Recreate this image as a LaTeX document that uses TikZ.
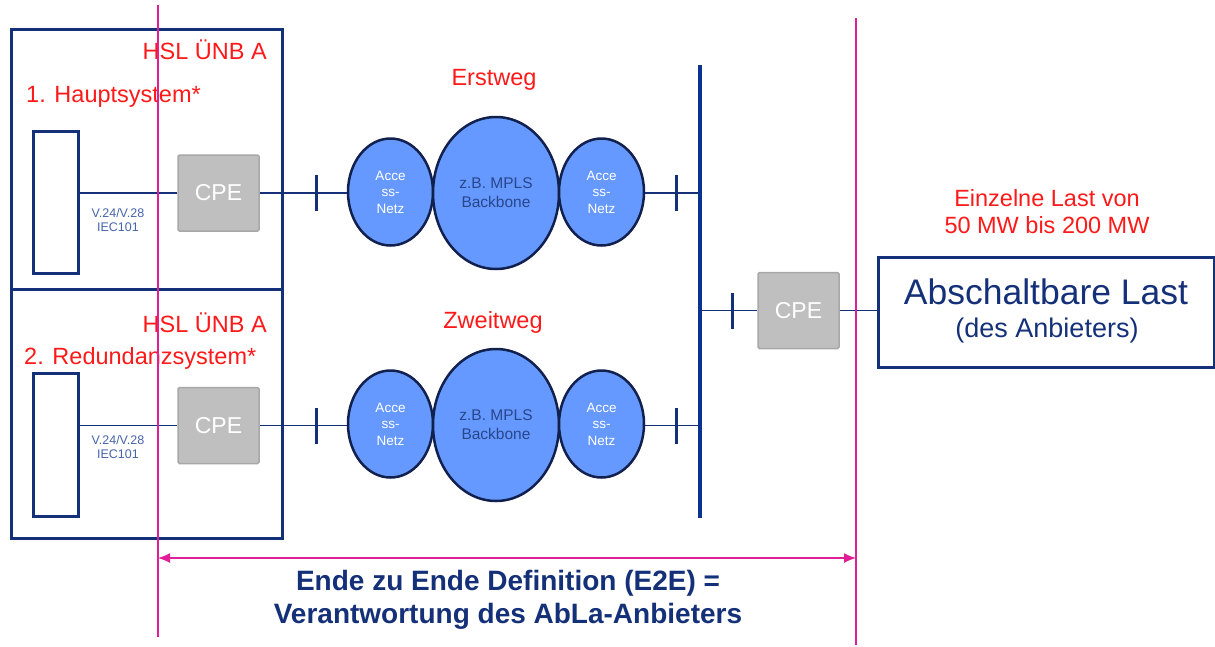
\documentclass[tikz,border=0pt]{standalone}
\usepackage{fontspec}
\setmainfont{Liberation Sans}
\usetikzlibrary{shapes.geometric,arrows.meta}
\definecolor{navy}{RGB}{20,48,120}
\definecolor{busblue}{RGB}{10,50,145}
\definecolor{accfill}{RGB}{102,153,255}
\definecolor{ellline}{RGB}{18,32,78}
\definecolor{alarm}{RGB}{255,25,25}
\definecolor{pinkline}{RGB}{225,30,150}
\definecolor{cpefill}{RGB}{191,191,191}
\definecolor{cpeline}{RGB}{168,168,168}
\definecolor{protocol}{RGB}{70,100,170}
\definecolor{bbtext}{RGB}{40,70,140}
\begin{document}
\begin{tikzpicture}[x=1pt,y=-1pt,
  sysbox/.style={draw=navy, line width=3pt, rectangle, inner sep=0pt, anchor=north west},
  devbox/.style={draw=navy, line width=3pt, rectangle, inner sep=0pt, anchor=north west, minimum width=45pt},
  cpe/.style={draw=cpeline, line width=1.5pt, fill=cpefill, rounded corners=1.5pt, minimum width=81pt, minimum height=76pt, inner sep=0pt, text=white, font=\fontsize{23}{27}\selectfont},
  redlbl/.style={text=alarm, inner sep=0pt, font=\fontsize{23.5}{27}\selectfont},
  proto/.style={text=protocol, inner sep=0pt, align=center, font=\fontsize{12.5}{14}\selectfont},
  access/.style={ellipse, draw=ellline, line width=2.5pt, fill=accfill, minimum width=85pt, minimum height=107pt, inner sep=0pt, text=white, align=center, font=\fontsize{13.5}{16.5}\selectfont},
  backbone/.style={ellipse, draw=ellline, line width=2.5pt, fill=accfill, minimum width=126pt, minimum height=152pt, inner sep=0pt, text=bbtext, align=center, font=\fontsize{15.5}{19}\selectfont},
  link/.style={draw=navy, line width=1.5pt},
  tickmark/.style={draw=navy, line width=3pt},
  bus/.style={draw=busblue, line width=4.5pt},
  bound/.style={draw=pinkline, line width=1.3pt},
]
\useasboundingbox (0,0) rectangle (1215,646);

% responsibility boundaries
\coordinate (bLt) at (158,5);   \coordinate (bLb) at (158,637);
\coordinate (bRt) at (856,18);  \coordinate (bRb) at (856,645);

% operator systems (main and redundant), sharing one edge
\node[sysbox, minimum width=271pt, minimum height=260pt] (sys1) at (10,28) {};
\node[sysbox, minimum width=271pt, minimum height=249pt] (sys2) at (10,288) {};
\node[redlbl, anchor=east] (hsl1) at (267,50) {HSL ÜNB A};
\node[redlbl, anchor=west] (haupt) at (26,97) {1. Hauptsystem*};
\node[redlbl, anchor=east] (hsl2) at (267,323) {HSL ÜNB A};
\node[redlbl, anchor=west] (redund) at (24,358) {2. Redundanzsystem*};

\node[devbox, minimum height=142pt] (dev1) at (32,130) {};
\node[devbox, minimum height=143pt] (dev2) at (32,372) {};

\node[cpe] (cpe1) at (218.5,193) {CPE};
\node[cpe] (cpe2) at (218.5,425.5) {CPE};
\node[cpe] (cpe3) at (798.5,310.5) {CPE};

\node[proto] (pr1) at (118,220) {V.24/V.28\\IEC101};
\node[proto] (pr2) at (118,447.5) {V.24/V.28\\IEC101};

% first path
\node[text=alarm, inner sep=0pt, font=\fontsize{23.5}{27}\selectfont] (erst) at (494,80) {Erstweg};
\node[access] (acc1) at (390.5,192) {Acce\\ss-\\Netz};
\node[backbone] (bb1) at (496,193) {z.B. MPLS\\Backbone};
\node[access] (acc2) at (601.5,192) {Acce\\ss-\\Netz};

% second path
\node[text=alarm, inner sep=0pt, font=\fontsize{23.5}{27}\selectfont] (zweit) at (493,322) {Zweitweg};
\node[access] (acc3) at (390.5,424) {Acce\\ss-\\Netz};
\node[backbone] (bb2) at (496,425) {z.B. MPLS\\Backbone};
\node[access] (acc4) at (601.5,424) {Acce\\ss-\\Netz};

% busbar
\coordinate (busT) at (700,65);
\coordinate (busB) at (700,518);
\draw[bus] (busT) -- (busB);

% interface ticks
\coordinate (tk1) at (316,193);
\coordinate (tk2) at (676,193);
\coordinate (tk3) at (316,425.5);
\coordinate (tk4) at (676,425.5);
\coordinate (tk5) at (732,311);

% links
\draw[link] (dev1.east |- cpe1.west) -- (cpe1.west);
\draw[link] (dev2.east |- cpe2.west) -- (cpe2.west);
\draw[link] (cpe1.east) -- (cpe1.east -| acc1.west);
\draw[link] (cpe2.east) -- (cpe2.east -| acc3.west);
\draw[link] (acc2.east |- tk2) -- (tk2 -| busT);
\draw[link] (acc4.east |- tk4) -- (tk4 -| busT);
\draw[link] (cpe3.west -| busT) -- (cpe3.west);

% load
\node[draw=navy, line width=3pt, rectangle, inner sep=0pt, anchor=north west, minimum width=336pt, minimum height=110pt] (load) at (877,256) {};
\node[text=navy, inner sep=0pt, font=\fontsize{35.5}{40}\selectfont] (loadname) at (1046,292) {Abschaltbare Last};
\node[text=navy, inner sep=0pt, font=\fontsize{27}{31}\selectfont] (loadown) at (1047,331) {(des Anbieters)};
\node[redlbl, align=center] (einz) at (1047,212) {Einzelne Last von\\50 MW bis 200 MW};
\draw[link] (cpe3.east) -- (cpe3.east -| load.west);

\foreach \t in {tk1,tk2,tk3,tk4,tk5}
  \draw[tickmark] ([yshift=18pt]\t) -- ([yshift=-18pt]\t);

% boundary lines and E2E span
\draw[bound] (bLt) -- (bLb);
\draw[bound] (bRt) -- (bRb);
\coordinate (aL) at (158,558);
\coordinate (aR) at (856,558);
\draw[bound, {Latex[length=12pt,width=10pt]}-{Latex[length=12pt,width=10pt]}] (aL) -- (aR);
\node[text=navy, inner sep=0pt, align=center, font=\bfseries\fontsize{28}{33}\selectfont] (e2e) at (508,600) {Ende zu Ende Definition (E2E) =\\Verantwortung des AbLa-Anbieters};
\end{tikzpicture}
\end{document}
